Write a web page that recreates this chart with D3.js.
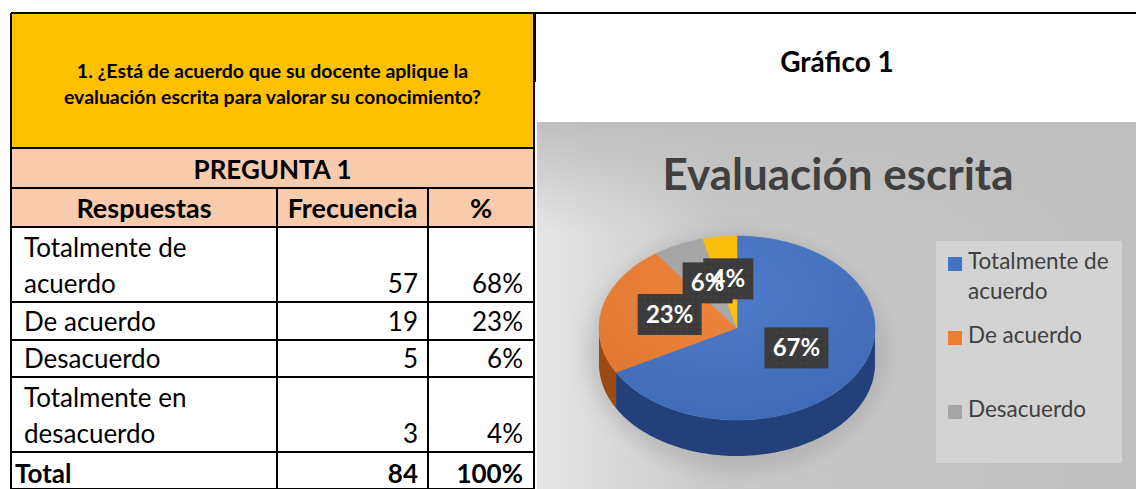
<!DOCTYPE html>
<html>
<head>
<meta charset="utf-8">
<script src="https://cdn.jsdelivr.net/npm/d3@7"></script>
<style>
  body { margin: 0; background: #fff; }
  svg { display: block; font-family: Lato, "Open Sans", sans-serif; }
</style>
</head>
<body>
<script>
// Data
const question = ["1. ¿Está de acuerdo que su docente aplique la", "evaluación escrita para valorar su conocimiento?"];
const answers = [["Totalmente de", "acuerdo"], ["De acuerdo"], ["Desacuerdo"], ["Totalmente en", "desacuerdo"]];
const categories = ["Totalmente de acuerdo", "De acuerdo", "Desacuerdo", "Totalmente en desacuerdo"];
const frequencies = [57, 19, 5, 3];
const tablePercents = ["68%", "23%", "6%", "4%"];
const chartPercents = [67, 23, 6, 4];
const colors = ["#4472c4", "#ed7d31", "#a5a5a5", "#ffc000"];
const sideColors = ["#23407a", "#9c4a15", "#6e6e6e", "#a67c00"];
const legendLabels = [["Totalmente de", "acuerdo"], ["De acuerdo"], ["Desacuerdo"]];

const width = 1136, height = 489;
const svg = d3.select("body").append("svg")
    .attr("width", width)
    .attr("height", height);

const defs = svg.append("defs");

// ---------- table ----------
const colX = [11, 277, 428, 534];
const rowY = [13, 148, 188, 227, 302, 340, 377, 452, 489];

svg.append("rect").attr("x", colX[0]).attr("y", rowY[0])
    .attr("width", colX[3] - colX[0]).attr("height", rowY[1] - rowY[0])
    .attr("fill", "#ffc000");
svg.append("rect").attr("x", colX[0]).attr("y", rowY[1])
    .attr("width", colX[3] - colX[0]).attr("height", rowY[3] - rowY[1])
    .attr("fill", "#f8cbad");

svg.append("text")
    .attr("x", (colX[0] + colX[3]) / 2).attr("y", 78)
    .attr("text-anchor", "middle").attr("font-weight", "bold").attr("font-size", 19.5)
    .selectAll("tspan").data(question).join("tspan")
    .attr("x", (colX[0] + colX[3]) / 2)
    .attr("dy", (d, i) => i ? 26 : 0)
    .text(d => d);

svg.append("text")
    .attr("x", (colX[0] + colX[3]) / 2).attr("y", 179)
    .attr("text-anchor", "middle").attr("font-weight", "bold").attr("font-size", 26)
    .text("PREGUNTA 1");

const headers = ["Respuestas", "Frecuencia", "%"];
svg.selectAll(".hdr").data(headers).join("text")
    .attr("class", "hdr")
    .attr("x", (d, i) => (colX[i] + colX[i + 1]) / 2)
    .attr("y", 218)
    .attr("text-anchor", "middle").attr("font-weight", "bold").attr("font-size", 27)
    .text(d => d);

// body rows
answers.forEach((lines, i) => {
  const bottom = rowY[4 + i];
  const base = bottom - 9;
  svg.append("text")
      .attr("x", 24).attr("font-size", 26)
      .selectAll("tspan").data(lines).join("tspan")
      .attr("x", 24)
      .attr("y", (d, j) => base - (lines.length - 1 - j) * 36)
      .text(d => d);
  svg.append("text").attr("x", colX[2] - 10).attr("y", base)
      .attr("text-anchor", "end").attr("font-size", 26).text(frequencies[i]);
  svg.append("text").attr("x", colX[3] - 11).attr("y", base)
      .attr("text-anchor", "end").attr("font-size", 26).text(tablePercents[i]);
});
const totalBase = rowY[8] - 6;
svg.append("text").attr("x", 15).attr("y", totalBase)
    .attr("font-weight", "bold").attr("font-size", 26).text("Total");
svg.append("text").attr("x", colX[2] - 10).attr("y", totalBase)
    .attr("text-anchor", "end").attr("font-weight", "bold").attr("font-size", 26)
    .text(d3.sum(frequencies));
svg.append("text").attr("x", colX[3] - 11).attr("y", totalBase)
    .attr("text-anchor", "end").attr("font-weight", "bold").attr("font-size", 26)
    .text("100%");

// grid lines
const grid = svg.append("g").attr("stroke", "#000").attr("stroke-width", 2);
grid.append("line").attr("x1", colX[0]).attr("x2", width).attr("y1", rowY[0]).attr("y2", rowY[0]);
rowY.slice(1).forEach(y => {
  grid.append("line").attr("x1", colX[0]).attr("x2", colX[3]).attr("y1", y).attr("y2", y);
});
grid.append("line").attr("x1", colX[0]).attr("x2", colX[0]).attr("y1", rowY[0]).attr("y2", height);
grid.append("line").attr("x1", colX[3]).attr("x2", colX[3]).attr("y1", rowY[0]).attr("y2", height);
[1, 2].forEach(c => {
  grid.append("line").attr("x1", colX[c]).attr("x2", colX[c]).attr("y1", rowY[2]).attr("y2", height);
});
grid.append("line").attr("x1", 535).attr("x2", 535).attr("y1", rowY[0]).attr("y2", 82);

// ---------- chart ----------
svg.append("text")
    .attr("x", 837).attr("y", 72)
    .attr("text-anchor", "middle").attr("font-weight", "bold").attr("font-size", 28)
    .text("Gráfico 1");

const bg = defs.append("linearGradient").attr("id", "bgGrad")
    .attr("x1", "0%").attr("x2", "100%").attr("y1", "0%").attr("y2", "0%");
bg.append("stop").attr("offset", "0%").attr("stop-color", "#e6e6e6");
bg.append("stop").attr("offset", "30%").attr("stop-color", "#c9c9c9");
bg.append("stop").attr("offset", "100%").attr("stop-color", "#bfbfbf");
svg.append("rect").attr("x", 537).attr("y", 122).attr("width", width - 537).attr("height", height - 122)
    .attr("fill", "url(#bgGrad)");
const topFade = defs.append("linearGradient").attr("id", "topFade")
    .attr("x1", "0%").attr("x2", "0%").attr("y1", "0%").attr("y2", "100%");
topFade.append("stop").attr("offset", "0%").attr("stop-color", "#bfbfbf").attr("stop-opacity", 1);
topFade.append("stop").attr("offset", "100%").attr("stop-color", "#bfbfbf").attr("stop-opacity", 0);
svg.append("rect").attr("x", 537).attr("y", 122).attr("width", width - 537).attr("height", 110)
    .attr("fill", "url(#topFade)");

svg.append("text")
    .attr("x", 838).attr("y", 190)
    .attr("text-anchor", "middle").attr("font-weight", "bold").attr("font-size", 44)
    .attr("fill", "#404040")
    .text("Evaluación escrita");

// 3D pie
const cx = 737, cy = 328, rx = 138, ry = 92, depth = 36;
const pie = d3.pie().sort(null).value(d => d)(chartPercents);
const px = (a, f = 1) => cx + rx * f * Math.sin(a);
const py = (a, f = 1, dz = 0) => cy - ry * f * Math.cos(a) + dz;

function arcPoints(a0, a1, dz) {
  const n = Math.max(2, Math.ceil((a1 - a0) / 0.03));
  return d3.range(n + 1).map(k => {
    const a = a0 + (a1 - a0) * k / n;
    return [px(a), py(a, 1, dz)];
  });
}

const blur = defs.append("filter").attr("id", "soft").attr("x", "-30%").attr("y", "-30%")
    .attr("width", "160%").attr("height", "160%");
blur.append("feGaussianBlur").attr("stdDeviation", 9);
svg.append("ellipse").attr("cx", cx).attr("cy", cy + depth / 2 + 6)
    .attr("rx", rx + 12).attr("ry", ry + depth / 2 + 10)
    .attr("fill", "#9a9a9a").attr("opacity", 0.4).attr("filter", "url(#soft)");

const pieG = svg.append("g");
const line = d3.line();

// side walls: only the front half (PI/2 .. 3PI/2)
pie.forEach((s, i) => {
  const a0 = Math.max(s.startAngle, Math.PI / 2);
  const a1 = Math.min(s.endAngle, 3 * Math.PI / 2);
  if (a1 <= a0) return;
  const top = arcPoints(a0, a1, 0);
  const bot = arcPoints(a0, a1, depth).reverse();
  pieG.append("path")
      .attr("d", line(top.concat(bot)) + "Z")
      .attr("fill", sideColors[i]);
});

// top faces
const topGrad = defs.append("radialGradient").attr("id", "topShade")
    .attr("cx", "45%").attr("cy", "30%").attr("r", "75%");
topGrad.append("stop").attr("offset", "0%").attr("stop-color", "#fff").attr("stop-opacity", 0.06);
topGrad.append("stop").attr("offset", "100%").attr("stop-color", "#000").attr("stop-opacity", 0.08);

pie.forEach((s, i) => {
  const pts = [[cx, cy]].concat(arcPoints(s.startAngle, s.endAngle, 0));
  pieG.append("path")
      .attr("d", line(pts) + "Z")
      .attr("fill", colors[i])
      .attr("stroke", colors[i]).attr("stroke-width", 0.5);
});
pieG.append("ellipse").attr("cx", cx).attr("cy", cy).attr("rx", rx).attr("ry", ry)
    .attr("fill", "url(#topShade)");

// data labels: boxes first, then texts (texts overlap like in the original)
const pat = defs.append("pattern").attr("id", "dots").attr("width", 6).attr("height", 6)
    .attr("patternUnits", "userSpaceOnUse");
pat.append("rect").attr("width", 6).attr("height", 6).attr("fill", "#3b3b3b");
pat.append("circle").attr("cx", 3).attr("cy", 3).attr("r", 0.8).attr("fill", "#4a4a4a");

const labels = pie.map((s, i) => {
  const mid = (s.startAngle + s.endAngle) / 2;
  return { x: px(mid, 0.5), y: py(mid, 0.5) - 3, txt: chartPercents[i] + "%" };
});
const labelG = svg.append("g");
labelG.selectAll("rect").data(labels).join("rect")
    .attr("x", d => d.x - (d.txt.length === 2 ? 25 : 32))
    .attr("y", d => d.y - 21)
    .attr("width", d => d.txt.length === 2 ? 50 : 64)
    .attr("height", 41)
    .attr("fill", "url(#dots)");
labelG.selectAll("text").data(labels).join("text")
    .attr("x", d => d.x).attr("y", d => d.y + 8)
    .attr("text-anchor", "middle").attr("font-weight", "bold").attr("font-size", 24)
    .attr("fill", "#fff").text(d => d.txt);

// legend
svg.append("rect").attr("x", 936).attr("y", 241).attr("width", 186).attr("height", 222)
    .attr("fill", "#d3d3d3");
const legendY = [257, 331, 405];
legendLabels.forEach((lines, i) => {
  svg.append("rect").attr("x", 948).attr("y", legendY[i]).attr("width", 14).attr("height", 14)
      .attr("fill", colors[i]);
  svg.append("text").attr("font-size", 22.5).attr("fill", "#404040")
      .selectAll("tspan").data(lines).join("tspan")
      .attr("x", 968)
      .attr("y", (d, j) => legendY[i] + 12 + j * 30)
      .text(d => d);
});
</script>
</body>
</html>
